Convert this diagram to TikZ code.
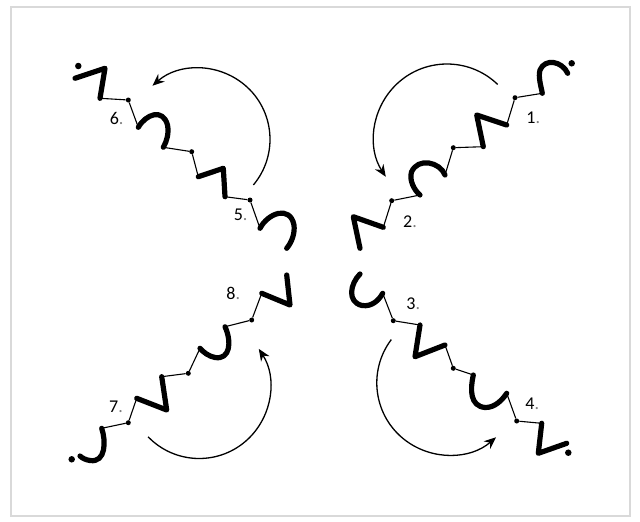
\documentclass[tikz,border=0pt]{standalone}
\usepackage{fontspec}
\setmainfont{Carlito}
\usetikzlibrary{arrows.meta}
\begin{document}
\begin{tikzpicture}[x=1pt,y=-1pt,
  thickstroke/.style={line width=5.2pt,line cap=round,line join=round},
  thinstroke/.style={line width=1.1pt},
  jointdot/.style={circle,fill=black,inner sep=0pt,minimum size=5pt},
  enddot/.style={circle,fill=black,inner sep=0pt,minimum size=6.5pt},
  turnarrow/.style={line width=1.3pt,-{Stealth[length=12pt,width=10pt]}},
  numlabel/.style={font=\fontsize{18}{20}\selectfont,inner sep=0pt}]
\useasboundingbox (0,0) rectangle (640,522);
\draw[gray!30,line width=1.2pt] (11,7) rectangle (630,516);

% chain 1-2
\node[enddot] (e1) at (571.7,63.3) {};
\draw[thickstroke] (567.7,73.3) .. controls (562,61) and (545,58) .. (540,70) .. controls (538,77) and (541,86) .. (542.3,93.3) coordinate (h1e);
\node[jointdot] (j1a) at (515,97.7) {};
\coordinate (z1s) at (506.7,125);
\draw[thinstroke] (h1e) -- (j1a) -- (z1s);
\draw[thickstroke] (z1s) -- (476.7,115) -- (483.3,146.7) coordinate (z1e);
\node[jointdot] (j1b) at (453.3,147.7) {};
\coordinate (h2s) at (445,175);
\draw[thinstroke] (z1e) -- (j1b) -- (h2s);
\draw[thickstroke] (h2s) .. controls (440,162) and (418,157) .. (411.5,172) .. controls (409,180) and (414,190) .. (420,195) coordinate (h2e);
\node[jointdot] (j2) at (391.7,200.7) {};
\coordinate (z2s) at (383.3,227.3);
\draw[thinstroke] (h2e) -- (j2) -- (z2s);
\draw[thickstroke] (z2s) -- (353.3,216.7) -- (360,248.3);
\coordinate (c12) at (447,137);
\draw[turnarrow] (c12) ++(-46:73) arc[start angle=-46,end angle=-213,radius=73];
\node[numlabel] (l1) at (533.3,117.3) {1{\color{gray}.}};
\node[numlabel] (l2) at (410,221.7) {2{\color{gray}.}};

% chain 3-4
\draw[thickstroke] (360,274) .. controls (350,284) and (347,302) .. (362,305.5) .. controls (372,307) and (379,300) .. (382.7,293.3) coordinate (h3e);
\node[jointdot] (j3a) at (393.3,320.7) {};
\coordinate (z3s) at (420,325);
\draw[thinstroke] (h3e) -- (j3a) -- (z3s);
\draw[thickstroke] (z3s) -- (415,356.7) -- (445,345) coordinate (z3e);
\node[jointdot] (j3b) at (453.3,368.3) {};
\coordinate (h4s) at (473.3,375);
\draw[thinstroke] (z3e) -- (j3b) -- (h4s);
\draw[thickstroke] (h4s) .. controls (470,390) and (470,406) .. (485,407.5) .. controls (495,408) and (503,399) .. (506.7,393.3) coordinate (h4e);
\node[jointdot] (j4) at (516.7,421) {};
\coordinate (z4s) at (541.7,423.3);
\draw[thinstroke] (h4e) -- (j4) -- (z4s);
\draw[thickstroke] (z4s) -- (538.3,453.3) -- (566.7,443.3);
\node[enddot] (e4) at (568.3,452.7) {};
\coordinate (c34) at (448.8,382.9);
\draw[turnarrow] (c34) ++(-143:72) arc[start angle=-143,end angle=-311,radius=72];
\node[numlabel] (l3) at (413.3,303.3) {3{\color{gray}.}};
\node[numlabel] (l4) at (532.3,403.3) {4{\color{gray}.}};

% chain 5-6
\node[enddot] (e6) at (78.3,66) {};
\draw[thickstroke] (75,78.3) -- (105,68.3) -- (100,98.3) coordinate (z6e);
\node[jointdot] (j6) at (128.3,100) {};
\coordinate (h6s) at (138.3,127.3);
\draw[thinstroke] (z6e) -- (j6) -- (h6s);
\draw[thickstroke] (h6s) .. controls (146,114) and (163,108) .. (167.5,125) .. controls (169,133) and (167,141) .. (163.3,147.3) coordinate (h6e);
\node[jointdot] (j5a) at (191.7,151.7) {};
\coordinate (z5s) at (198.3,176.7);
\draw[thinstroke] (h6e) -- (j5a) -- (z5s);
\draw[thickstroke] (z5s) -- (223.3,168.3) -- (225,196.7) coordinate (z5e);
\node[jointdot] (j5b) at (250,200) {};
\coordinate (h5s) at (260,228.3);
\draw[thinstroke] (z5e) -- (j5b) -- (h5s);
\draw[thickstroke] (h5s) .. controls (268,213) and (290,205) .. (294,225) .. controls (295,233) and (292,242) .. (286.7,248.3);
\coordinate (c56) at (199,139.3);
\draw[turnarrow] (c56) ++(40:71) arc[start angle=40,end angle=-131,radius=71];
\node[numlabel] (l5) at (240.7,215) {5{\color{gray}.}};
\node[numlabel] (l6) at (116.7,118.3) {6{\color{gray}.}};

% chain 7-8
\draw[thickstroke] (286.7,275) -- (290,305) -- (261.7,293.3) coordinate (z8e);
\node[jointdot] (j8) at (251.7,320) {};
\coordinate (h8s) at (225,326.7);
\draw[thinstroke] (z8e) -- (j8) -- (h8s);
\draw[thickstroke] (h8s) .. controls (232,342) and (230,360) .. (215,357.5) .. controls (209,356.5) and (203,352) .. (200,348.3) coordinate (h8e);
\node[jointdot] (j7a) at (188.3,373.3) {};
\coordinate (z7s) at (161.7,376.7);
\draw[thinstroke] (h8e) -- (j7a) -- (z7s);
\draw[thickstroke] (z7s) -- (166.7,410) -- (136.7,398.3) coordinate (z7e);
\node[jointdot] (j7b) at (128.3,422.7) {};
\coordinate (h7s) at (101.7,428.3);
\draw[thinstroke] (z7e) -- (j7b) -- (h7s);
\draw[thickstroke] (h7s) .. controls (106,441) and (106,463) .. (90,460.5) .. controls (86,460) and (82,458) .. (80,456);
\node[enddot] (e7) at (71.7,459.3) {};
\coordinate (c78) at (199.2,387.5);
\draw[turnarrow] (c78) ++(136:71) arc[start angle=136,end angle=-33,radius=71];
\node[numlabel] (l7) at (116,406.7) {7{\color{gray}.}};
\node[numlabel] (l8) at (233.3,293.3) {8{\color{gray}.}};
\end{tikzpicture}
\end{document}
